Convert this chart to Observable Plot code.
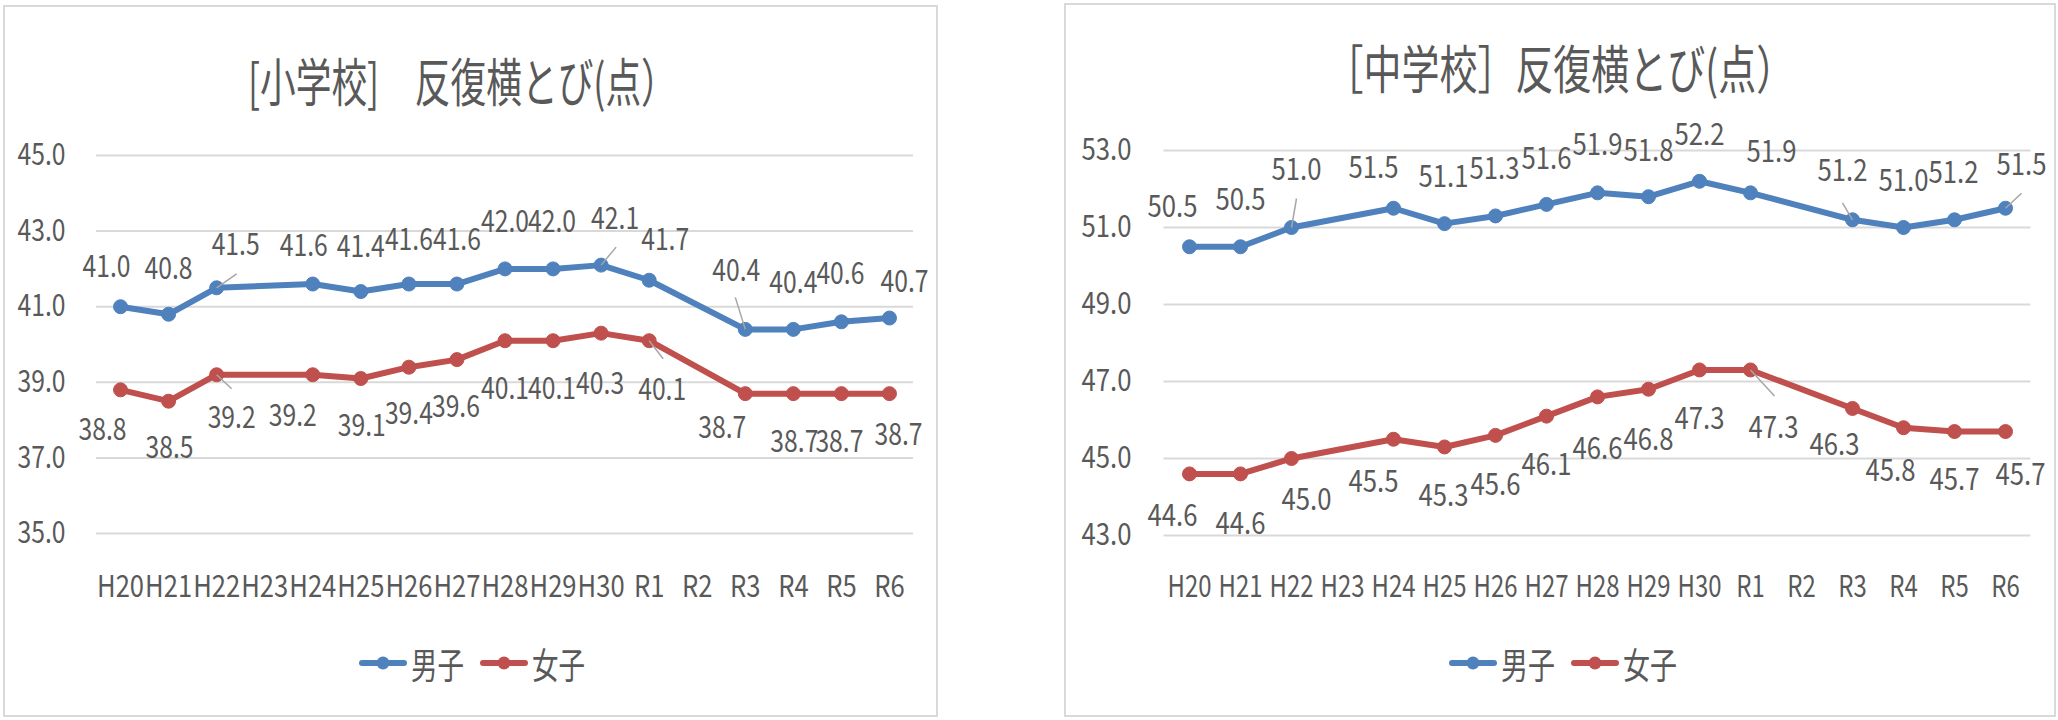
<!DOCTYPE html>
<html><head><meta charset="utf-8">
<script src="https://cdn.jsdelivr.net/npm/d3@7"></script>
<script src="https://cdn.jsdelivr.net/npm/@observablehq/plot@0.6"></script>
<style>
html,body{margin:0;padding:0;background:#fff;}
body{width:2058px;height:720px;position:relative;overflow:hidden;font-family:'Noto Sans CJK JP',sans-serif;color:#595959;}
.frame{position:absolute;box-sizing:border-box;border:2px solid #d9d9d9;background:#fff;}
.title{position:absolute;white-space:nowrap;font-size:52px;line-height:52px;transform-origin:center center;color:#595959;}
.abs{position:absolute;}
</style></head><body>
<script>
// ---- data ----
const years = ["H20","H21","H22","H23","H24","H25","H26","H27","H28","H29","H30","R1","R2","R3","R4","R5","R6"];
const seriesNames = ["男子","女子"];
const seriesColors = ["#4f81bd","#c0504d"];
const elemTitle = "[小学校]　反復横とび(点）";
const juniorTitle = "［中学校］反復横とび(点）";
const elemBoys  = [41.0,40.8,41.5,null,41.6,41.4,41.6,41.6,42.0,42.0,42.1,41.7,null,40.4,40.4,40.6,40.7];
const elemGirls = [38.8,38.5,39.2,null,39.2,39.1,39.4,39.6,40.1,40.1,40.3,40.1,null,38.7,38.7,38.7,38.7];
const juniorBoys  = [50.5,50.5,51.0,null,51.5,51.1,51.3,51.6,51.9,51.8,52.2,51.9,null,51.2,51.0,51.2,51.5];
const juniorGirls = [44.6,44.6,45.0,null,45.5,45.3,45.6,46.1,46.6,46.8,47.3,47.3,null,46.3,45.8,45.7,45.7];
const elemTicks = [35,37,39,41,43,45];
const juniorTicks = [43,45,47,49,51,53];

// ---- label placement (pixel nudges from each point) ----
const elemBoysNudge = [[-14,-39],[0,-45],[19,-42],null,[-9,-38],[0,-44],[0,-44],[0,-44],[0,-47],[-1,-47],[14,-46],[16,-40],null,[-9,-58],[0,-46],[-1,-47],[15,-36]];
const elemGirlsNudge = [[-18,41],[1,47],[15,44],null,[-20,42],[1,48],[0,47],[-1,48],[0,49],[-1,49],[-1,51],[13,50],null,[-23,35],[1,49],[-2,49],[9,42]];
const juniorBoysNudge = [[-17,-39],[0,-46],[5,-57],null,[-20,-40],[-1,-46],[-1,-47],[0,-45],[0,-47],[0,-45],[0,-46],[21,-40],null,[-10,-48],[0,-46],[-1,-46],[16,-43]];
const juniorGirlsNudge = [[-17,42],[0,50],[15,42],null,[-20,43],[-1,49],[0,50],[0,49],[0,52],[0,51],[0,49],[23,58],null,[-18,37],[-13,44],[0,49],[15,44]];
const elemLeaders = [{2:[20,-14],10:[15,-18],13:[-10,-32]},{2:[15,14],11:[14,18]}];
const juniorLeaders = [{2:[5,-29],13:[-10,-17],16:[16,-15]},{11:[24,26]}];

const layouts = {
  elem: {frame:{left:3,top:5,width:935,height:712}, svg:{left:0,top:100,width:940,height:510},
         margin:{top:55,right:27,bottom:77,left:96}, yTickPad:31, xTickPad:42.5,
         title:{cx:462.5, cy:80, w:429}, legend:{cx:472, cy:663},
         widths:{data:46.5, y:48, x:47, legend:53}, domain:[35,45]},
  junior: {frame:{left:1064,top:3,width:992,height:714}, svg:{left:1064,top:100,width:994,height:510},
         margin:{top:50,right:27.5,bottom:75,left:99.5}, yTickPad:32.5, xTickPad:40.5,
         title:{cx:1560, cy:67, w:469}, legend:{cx:1563, cy:663},
         widths:{data:50, y:50, x:44, legend:54}, domain:[43,53]}
};

function condense(svg, widths){
  const texts = Array.from(svg.querySelectorAll("text"));
  let hRef = null;
  for (const t of texts) if (t.textContent === "H20") hRef = t.getComputedTextLength();
  const fx = hRef ? widths.x / hRef : 0.85;
  for (const t of texts){
    const s = t.textContent;
    if (!s) continue;
    const n = t.getComputedTextLength();
    let target;
    if (t.closest('g[aria-label="data-label"]')) target = widths.data;
    else if (/^[HR]/.test(s)) target = n * fx;
    else target = widths.y;
    t.setAttribute("textLength", target);
    t.setAttribute("lengthAdjust", "spacingAndGlyphs");
  }
}

function drawChart(key, title, seriesValues, ticks, nudges, leaders){
  const L = layouts[key];
  const body = document.body;
  const frame = document.createElement("div");
  frame.className = "frame";
  Object.assign(frame.style, {left:L.frame.left+"px", top:L.frame.top+"px", width:L.frame.width+"px", height:L.frame.height+"px"});
  body.appendChild(frame);

  const xa = L.margin.left, xb = L.svg.width - L.margin.right;
  const ya = L.svg.height - L.margin.bottom, yb = L.margin.top;
  const pxX = (xb - xa) / years.length;
  const pxY = (ya - yb) / (L.domain[1] - L.domain[0]);

  const marks = [
    Plot.ruleY(ticks, {stroke:"#d9d9d9", strokeWidth:2}),
    Plot.axisY({ticks, tickFormat: d => d.toFixed(1), tickSize:0, tickPadding:L.yTickPad, fontSize:30, label:null}),
    Plot.axisX({ticks: d3.range(years.length), tickFormat: i => years[i], tickSize:0, tickPadding:L.xTickPad, fontSize:30, label:null})
  ];
  seriesValues.forEach((vals, k) => {
    const color = seriesColors[k];
    const pts = vals.map((v,i) => ({i, v})).filter(d => d.v != null);
    marks.push(Plot.line(pts, {x:"i", y:"v", stroke:color, strokeWidth:6, strokeLinejoin:"round", strokeLinecap:"round"}));
    marks.push(Plot.dot(pts, {x:"i", y:"v", r:7, fill:color, stroke:color, strokeWidth:1}));
    const lk = Object.entries(leaders[k]).map(([i,[dx,dy]]) => ({i:+i, v:vals[+i], x2:+i + dx/pxX, y2:vals[+i] - dy/pxY}));
    marks.push(Plot.link(lk, {x1:"i", y1:"v", x2:"x2", y2:"y2", stroke:"#a6a6a6", strokeWidth:1.5}));
    for (const d of pts){
      const [dx, dy] = nudges[k][d.i];
      marks.push(Plot.text([d], {x:"i", y:"v", text: e => e.v.toFixed(1), dx, dy, fontSize:30, fill:"#595959", ariaLabel:"data-label"}));
    }
  });

  const svg = Plot.plot({
    width:L.svg.width, height:L.svg.height,
    marginTop:L.margin.top, marginRight:L.margin.right, marginBottom:L.margin.bottom, marginLeft:L.margin.left,
    x:{type:"linear", domain:[-0.5, years.length-0.5], label:null},
    y:{domain:L.domain, label:null},
    style:{fontFamily:"'Noto Sans CJK JP', sans-serif", fontSize:"30px", color:"#595959", background:"transparent", overflow:"visible"},
    marks
  });
  svg.classList.add("abs");
  svg.style.left = L.svg.left + "px";
  svg.style.top = L.svg.top + "px";
  body.appendChild(svg);
  condense(svg, L.widths);

  // title
  const t = document.createElement("div");
  t.className = "title";
  t.textContent = title;
  body.appendChild(t);
  const w = t.offsetWidth, h = t.offsetHeight;
  t.style.left = (L.title.cx - w/2) + "px";
  t.style.top = (L.title.cy - h/2) + "px";
  t.style.transform = `scaleX(${L.title.w / w})`;

  // legend
  const sw = 48, gap = 4, tw = L.widths.legend, itemGap = 16;
  const total = 2*(sw+gap+tw) + itemGap;
  const lg = d3.create("svg").attr("width", total+10).attr("height", 50)
    .style("position","absolute").style("left", (L.legend.cx - total/2 - 5)+"px").style("top", (L.legend.cy - 25)+"px")
    .style("overflow","visible");
  seriesNames.forEach((name, k) => {
    const x0 = 5 + k*(sw+gap+tw+itemGap);
    const g = lg.append("g");
    g.append("line").attr("x1", x0+3).attr("x2", x0+sw-3).attr("y1", 25).attr("y2", 25)
      .attr("stroke", seriesColors[k]).attr("stroke-width", 6).attr("stroke-linecap","round");
    g.append("circle").attr("cx", x0+sw/2).attr("cy", 25).attr("r", 6.5).attr("fill", seriesColors[k]);
    g.append("text").attr("x", x0+sw+gap).attr("y", 25).attr("dominant-baseline","central")
      .attr("font-family","'Noto Sans CJK JP', sans-serif").attr("font-size", 36).attr("fill","#595959")
      .attr("textLength", tw).attr("lengthAdjust","spacingAndGlyphs").text(name);
  });
  body.appendChild(lg.node());
}

drawChart("elem", elemTitle, [elemBoys, elemGirls], elemTicks, [elemBoysNudge, elemGirlsNudge], elemLeaders);
drawChart("junior", juniorTitle, [juniorBoys, juniorGirls], juniorTicks, [juniorBoysNudge, juniorGirlsNudge], juniorLeaders);
</script>
</body></html>
